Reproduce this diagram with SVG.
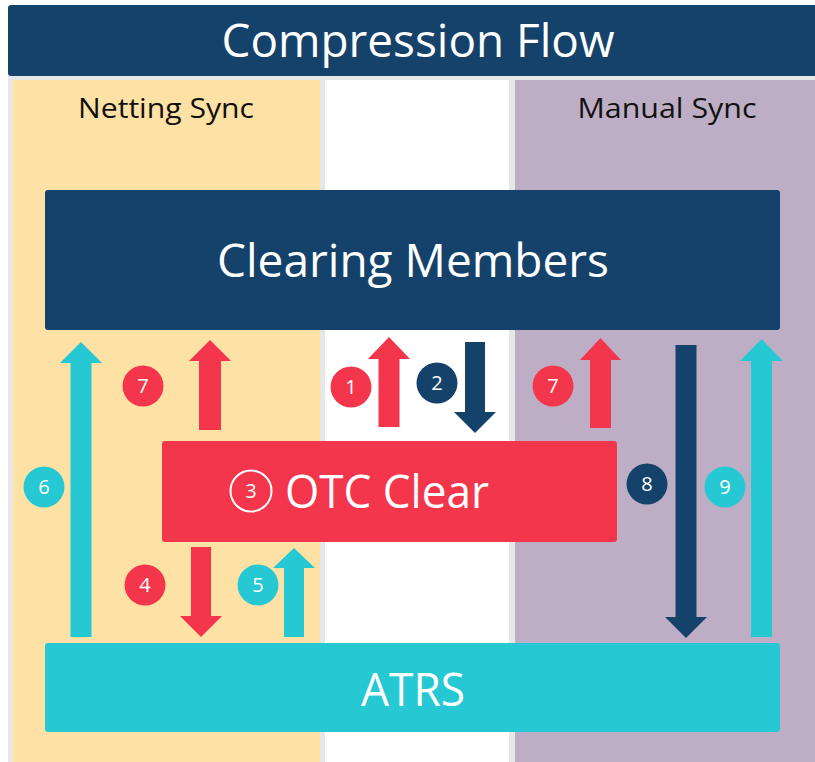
<svg xmlns="http://www.w3.org/2000/svg" width="815" height="762" viewBox="0 0 815 762">
<style>
.t{font-family:"Open Sans","Liberation Sans",sans-serif;fill:#fff;text-anchor:middle}
.h{font-family:"Open Sans","Liberation Sans",sans-serif;fill:#111;text-anchor:middle;font-size:28px}
.n{font-family:"Open Sans","Liberation Sans",sans-serif;fill:#fff;text-anchor:middle;font-size:20px}
.dark{fill:#15426b}.red{fill:#f3364c}.cyan{fill:#26c9d3}
</style>
<rect width="815" height="762" fill="#fff"/>
<g id="frame">
<rect x="8" y="75" width="807" height="687" fill="#e7e7e7"/>
<rect x="13" y="80" width="307" height="682" fill="#fee1a4"/>
<rect x="325" y="80" width="184" height="682" fill="#fff"/>
<rect x="515" y="80" width="300" height="682" fill="#bdaec5"/>
</g>
<g id="title">
<rect x="8" y="5" width="812" height="71" rx="3" class="dark"/>
<text x="418" y="57" class="t" font-size="46" textLength="393" lengthAdjust="spacingAndGlyphs">Compression Flow</text>
</g>
<g id="lane-netting"><text x="166" y="118" class="h" textLength="176" lengthAdjust="spacingAndGlyphs">Netting Sync</text></g>
<g id="lane-manual"><text x="667" y="118" class="h" textLength="179" lengthAdjust="spacingAndGlyphs">Manual Sync</text></g>
<g id="clearing-members">
<rect x="45" y="190" width="735" height="140" rx="3" class="dark"/>
<text x="413" y="277" class="t" font-size="46" textLength="392" lengthAdjust="spacingAndGlyphs">Clearing Members</text>
</g>
<g id="otc-clear">
<rect x="162" y="441" width="455" height="101" rx="3" class="red"/>
<circle cx="251" cy="491" r="20.5" fill="none" stroke="#fff" stroke-width="2"/>
<text x="251" y="498" class="n">3</text>
<text x="387" y="508" class="t" font-size="46" textLength="204" lengthAdjust="spacingAndGlyphs">OTC Clear</text>
</g>
<g id="atrs">
<rect x="45" y="643" width="735" height="89" rx="3" class="cyan"/>
<text x="413" y="706" class="t" font-size="46" textLength="104" lengthAdjust="spacingAndGlyphs">ATRS</text>
</g>
<g id="connectors">
<polygon class="cyan" points="70.5,637 70.5,363 60,363 81,342 102,363 91.5,363 91.5,637"/>
<polygon class="red" points="199,430 199,361 189,361 210,340 231,361 221,361 221,430"/>
<polygon class="red" points="378.5,427 378.5,359 368,359 389,337 410,359 399.5,359 399.5,427"/>
<polygon class="dark" points="465,342 465,412 454,412 475,433 496,412 485,412 485,342"/>
<polygon class="red" points="590,428 590,360 580,360 600.5,338 621,360 611,360 611,428"/>
<polygon class="dark" points="675.5,345 675.5,617 665,617 686,638 707,617 696.5,617 696.5,345"/>
<polygon class="cyan" points="751,637 751,361 740,361 761.5,339 783,361 772,361 772,637"/>
<polygon class="red" points="191,547 191,616 180,616 201,637 222,616 211,616 211,547"/>
<polygon class="cyan" points="284,637 284,568 273,568 294,548 315,568 304,568 304,637"/>
</g>
<g id="labels">
<circle cx="143" cy="386" r="20.5" class="red"/><text x="143" y="393" class="n">7</text>
<circle cx="351" cy="387" r="20.5" class="red"/><text x="351" y="394" class="n">1</text>
<circle cx="437" cy="383" r="20.5" class="dark"/><text x="437" y="390" class="n">2</text>
<circle cx="553" cy="386" r="20.5" class="red"/><text x="553" y="393" class="n">7</text>
<circle cx="44" cy="487" r="20.5" class="cyan"/><text x="44" y="494" class="n">6</text>
<circle cx="647" cy="484" r="20.5" class="dark"/><text x="647" y="491" class="n">8</text>
<circle cx="725" cy="487" r="20.5" class="cyan"/><text x="725" y="494" class="n">9</text>
<circle cx="145" cy="585" r="20.5" class="red"/><text x="145" y="592" class="n">4</text>
<circle cx="258" cy="585" r="20.5" class="cyan"/><text x="258" y="592" class="n">5</text>
</g>
</svg>
